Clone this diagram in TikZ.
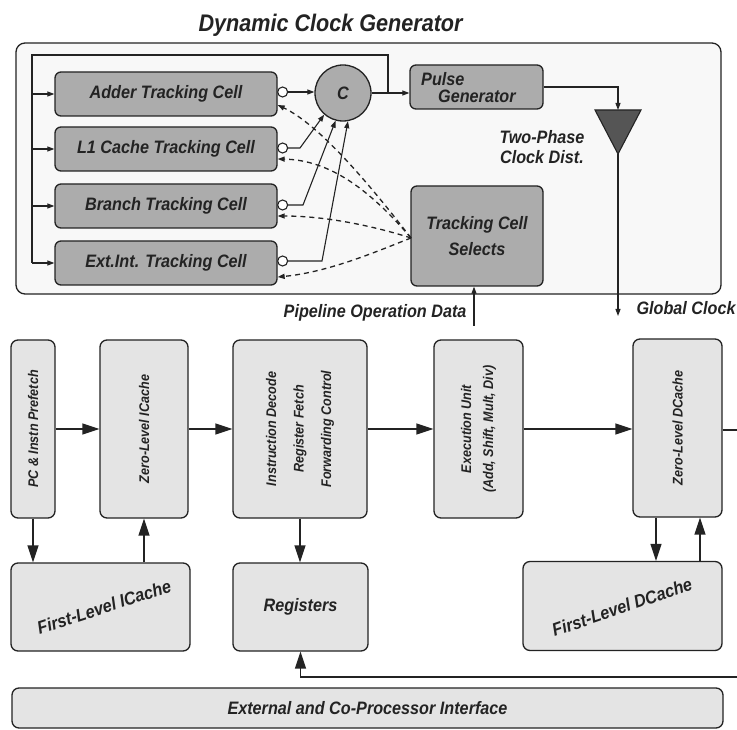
\documentclass[tikz,border=0pt]{standalone}
\usepackage{fontspec}
\setmainfont{Liberation Sans}[FakeStretch=0.9]
\usetikzlibrary{arrows.meta}

\definecolor{ink}{RGB}{35,35,35}
\definecolor{cellfill}{RGB}{172,172,172}
\definecolor{unitfill}{RGB}{228,228,228}
\definecolor{panelfill}{RGB}{248,248,248}
\definecolor{bufferfill}{RGB}{85,85,85}

\begin{document}
\begin{tikzpicture}[x=1pt,y=-1pt,
  lbl/.style={font=\fontsize{18}{20}\selectfont\bfseries\itshape, text=ink},
  vlbl/.style={font=\fontsize{14}{16}\selectfont\bfseries\itshape, text=ink, rotate=90},
  cell/.style={draw=ink, line width=1.3pt, fill=cellfill, rounded corners=6pt,
    minimum width=222pt, minimum height=44pt, inner sep=0pt, lbl},
  unit/.style={draw=ink, line width=1.3pt, fill=unitfill, rounded corners=7pt, inner sep=0pt},
  bubble/.style={circle, draw=ink, line width=1.1pt, fill=white, minimum size=10pt, inner sep=0pt},
  wire/.style={draw=ink, line width=1.1pt},
  small/.style={wire, -{Triangle[length=7pt,width=5pt]}},
  big/.style={wire, line width=1.4pt, -{Triangle[length=17pt,width=11pt]}},
  sel/.style={wire, line width=1.3pt, dash pattern=on 5pt off 4pt, -{Triangle[length=7pt,width=5pt]}},
]
\useasboundingbox (0,0) rectangle (737,730);
\fill[white] (0,0) rectangle (737,730);

% ---------------- clock generator ----------------
\node[lbl, font=\fontsize{24}{26}\selectfont\bfseries\itshape, anchor=base west]
  (title) at (195,32) {Dynamic Clock Generator};

\node[draw=ink, line width=1.3pt, fill=panelfill, rounded corners=9pt,
  minimum width=705pt, minimum height=251pt, inner sep=0pt] (panel) at (368.5,168.5) {};

\node[cell] (adder)  at (166,94)  {Adder Tracking Cell};
\node[cell] (lone)   at (166,149) {L1 Cache Tracking Cell};
\node[cell] (branch) at (166,206) {Branch Tracking Cell};
\node[cell] (extint) at (166,263) {Ext.Int. Tracking Cell};

\node[bubble] (badder)  at ([xshift=5pt,yshift=2pt]adder.east) {};
\node[bubble] (blone)   at ([xshift=5pt,yshift=1pt]lone.east) {};
\node[bubble] (bbranch) at ([xshift=5pt,yshift=1pt]branch.east) {};
\node[bubble] (bextint) at ([xshift=5pt,yshift=2pt]extint.east) {};

\node[circle, draw=ink, line width=1.3pt, fill=cellfill, minimum size=56pt,
  inner sep=0pt, lbl] (cmerge) at (343,93) {C};

\node[cell, minimum width=133pt, minimum height=44pt] (pulse) at (476.5,87) {};
\node[lbl, align=left, font=\fontsize{18}{17}\selectfont\bfseries\itshape,
  anchor=north west, inner sep=0pt] (pulsetext) at (421,72)
  {Pulse\\\hspace*{17pt}Generator};

\node[cell, minimum width=132pt, minimum height=100pt, align=center,
  font=\fontsize{18}{26}\selectfont\bfseries\itshape] (selects) at (477,236)
  {Tracking Cell\\Selects};

% clock distribution buffer
\coordinate (buftop) at (618,110);
\coordinate (buftip) at (618,154);
\filldraw[draw=ink, fill=bufferfill, line width=1.1pt]
  (595,110) -- (641,110) -- (buftip) -- cycle;
\node[lbl, align=center] (twophase) at (542,147) {Two-Phase\\Clock Dist.};

% feedback to every tracking cell
\coordinate (fbtap) at (388,93);
\coordinate (fbleft) at (32,55);
\draw[wire] (fbtap) -- (fbtap |- fbleft) -- (fbleft) -- (fbleft |- extint.west);
\foreach \c in {adder,lone,branch,extint}
  \draw[small] (fbleft |- \c.west) -- (\c.west);

% tracking cell outputs into the C element
\draw[small] (badder.east) -- (badder.east -| cmerge.west);
\draw[small] (blone.east) -- (300,148) -- (cmerge.229);
\draw[small] (bbranch.east) -- (303,205) -- (cmerge.255);
\draw[small] (bextint.east) -- (322,261) -- (cmerge.280);

\draw[small] (cmerge.east) -- (cmerge.east -| pulse.west);
\draw[small] (pulse.east) -| (buftop);

% global clock out
\coordinate (gclk) at (618,316);
\draw[small] (buftip) -- (gclk);
\node[lbl, anchor=base west] (gclklbl) at (633,315) {Global Clock};

% pipeline operation data in
\coordinate (pipein) at (474,326);
\draw[small] (pipein) -- (pipein |- selects.south);
\node[lbl, anchor=base east] (pipelbl) at (470,318) {Pipeline Operation Data};

% select lines to the tracking cells
\coordinate (selport) at (411,238);
\draw[sel] (selport) .. controls (370,185) and (320,125) .. ([yshift=-11pt]adder.east);
\draw[sel] (selport) .. controls (370,190) and (330,160) .. ([yshift=-10pt]lone.east);
\draw[sel] (selport) .. controls (380,228) and (330,216) .. ([yshift=-10pt]branch.east);
\draw[sel] (selport) .. controls (380,250) and (330,272) .. ([yshift=-14pt]extint.east);

% ---------------- pipeline ----------------
\node[unit, minimum width=44pt, minimum height=178pt,
  label={[vlbl]center:PC \& Instn Prefetch}] (pc) at (33,429) {};
\node[unit, minimum width=88pt, minimum height=178pt,
  label={[vlbl]center:Zero-Level ICache}] (zic) at (144,429) {};
\node[unit, minimum width=134pt, minimum height=178pt,
  label={[vlbl, align=center, font=\fontsize{14}{27.5}\selectfont\bfseries\itshape]center:{Instruction Decode\\Register Fetch\\Forwarding Control}}]
  (dec) at (300,429) {};
\node[unit, minimum width=89pt, minimum height=178pt,
  label={[vlbl, align=center, font=\fontsize{14}{22}\selectfont\bfseries\itshape]center:{Execution Unit\\(Add, Shift, Mult, Div)}}]
  (exe) at (478.5,429) {};
\node[unit, minimum width=89pt, minimum height=178pt,
  label={[vlbl]center:Zero-Level DCache}] (zdc) at (677.5,428) {};

\node[unit, minimum width=179pt, minimum height=88pt] (fic) at (100.5,607) {};
\node[lbl, rotate=18] (fictext) at (104,607) {First-Level ICache};
\node[unit, minimum width=135pt, minimum height=88pt, lbl] (reg) at (300.5,607) {Registers};
\node[unit, minimum width=199pt, minimum height=89pt] (fdc) at (622.5,606) {};
\node[lbl, rotate=19] (fdctext) at (622,607) {First-Level DCache};

\node[unit, minimum width=711pt, minimum height=40pt, lbl] (extif) at (367.5,708)
  {External and Co-Processor Interface};

% pipeline flow
\draw[big] (pc.east) -- (pc.east -| zic.west);
\draw[big] (zic.east) -- (zic.east -| dec.west);
\draw[big] (dec.east) -- (dec.east -| exe.west);
\draw[big] (exe.east) -- (exe.east -| zdc.west);
\coordinate (dout) at (737,430);
\draw[wire, line width=1.4pt] (zdc.east |- dout) -- (dout);

\draw[big] (pc.south) -- (pc.south |- fic.north);
\draw[big] (zic.south |- fic.north) -- (zic.south);
\draw[big] (dec.south) -- (dec.south |- reg.north);
\draw[big] ([xshift=-21.5pt]zdc.south) -- ([xshift=-21.5pt]zdc.south |- fdc.north);
\draw[big] ([xshift=22.5pt]zdc.south |- fdc.north) -- ([xshift=22.5pt]zdc.south);

\coordinate (rin) at (737,677);
\draw[big] (rin) -- (rin -| reg.south) -- (reg.south);
\end{tikzpicture}
\end{document}
